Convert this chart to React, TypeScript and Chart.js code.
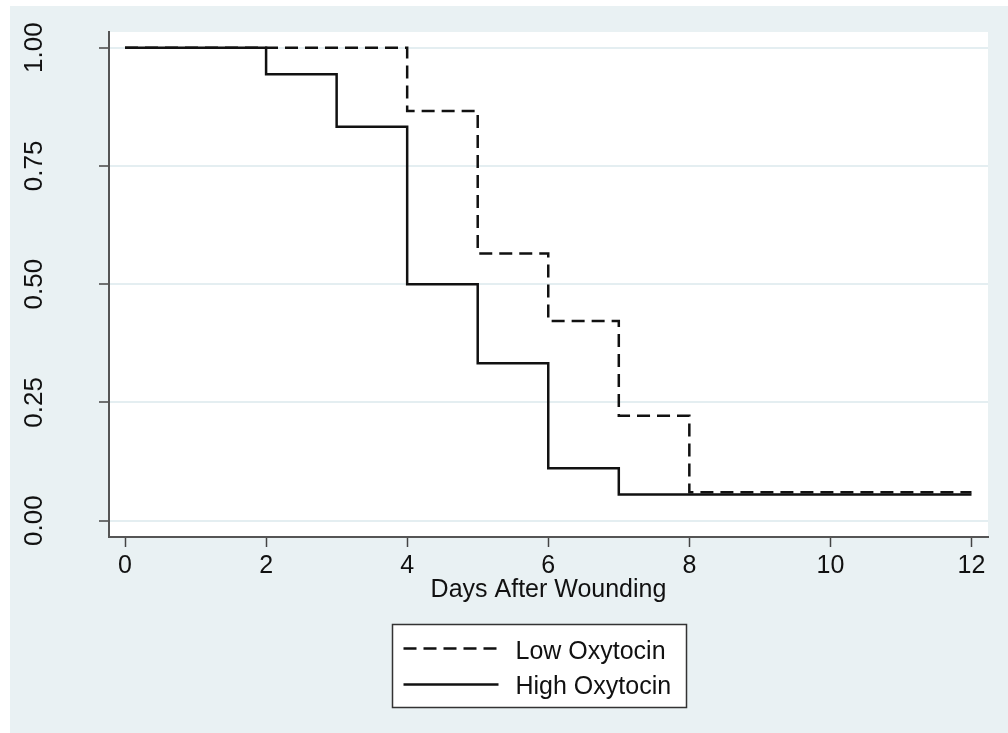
import { useEffect, useRef } from 'react'
import { Chart, registerables } from 'chart.js'

Chart.register(...registerables)

const seriesNames = ['Low Oxytocin', 'High Oxytocin']
const lowDays = [0, 4, 5, 6, 7, 8, 12]
const lowSurvival = [1, 0.866, 0.565, 0.422, 0.222, 0.06, 0.06]
const highDays = [0, 2, 3, 4, 5, 6, 7, 12]
const highSurvival = [1, 0.944, 0.833, 0.5, 0.333, 0.111, 0.0556, 0.0556]
const xTicks = [0, 2, 4, 6, 8, 10, 12]
const yTicks = [0, 0.25, 0.5, 0.75, 1]
const yTickLabels = ['0.00', '0.25', '0.50', '0.75', '1.00']
const xTitle = 'Days After Wounding'

const FONT = '"Liberation Sans", Arial, Helvetica, sans-serif'
const INK = '#111'

// white plot region on the bluish page
const plotBg = {
  id: 'plotBg',
  beforeDraw(chart: any) {
    const { ctx, chartArea: a } = chart
    ctx.save()
    ctx.fillStyle = '#fff'
    ctx.fillRect(a.left, a.top, a.right - a.left, a.bottom - a.top)
    ctx.restore()
  },
}

// Stata-style vertical y labels
const yLabels = {
  id: 'yLabels',
  afterDraw(chart: any) {
    const s = chart.scales.y
    const { ctx } = chart
    ctx.save()
    ctx.font = `26px ${FONT}`
    ctx.fillStyle = INK
    ctx.textAlign = 'center'
    ctx.textBaseline = 'alphabetic'
    s.ticks.forEach((t: any, i: number) => {
      const y = s.getPixelForValue(t.value)
      ctx.save()
      ctx.translate(s.right - 67, y)
      ctx.rotate(-Math.PI / 2)
      ctx.fillText(yTickLabels[i] ?? String(t.value), 0, 0)
      ctx.restore()
    })
    ctx.restore()
  },
}

// boxed legend under the axis title
const boxLegend = {
  id: 'boxLegend',
  afterDraw(chart: any) {
    const { ctx } = chart
    const bx = 382.5, by = 618.5, bw = 294, bh = 83
    ctx.save()
    ctx.fillStyle = '#fff'
    ctx.fillRect(bx, by, bw, bh)
    ctx.strokeStyle = '#333'
    ctx.lineWidth = 1.5
    ctx.strokeRect(bx, by, bw, bh)
    chart.data.datasets.forEach((ds: any, i: number) => {
      const ly = by + 24 + i * 36
      ctx.beginPath()
      ctx.setLineDash(ds.borderDash || [])
      ctx.strokeStyle = ds.borderColor
      ctx.lineWidth = ds.borderWidth
      ctx.moveTo(bx + 11, ly)
      ctx.lineTo(bx + 106, ly)
      ctx.stroke()
      ctx.setLineDash([])
      ctx.font = `25px ${FONT}`
      ctx.fillStyle = INK
      ctx.textAlign = 'left'
      ctx.textBaseline = 'alphabetic'
      ctx.fillText(ds.label, bx + 123, by + 34 + i * 35)
    })
    ctx.restore()
  },
}

export default function App() {
  const ref = useRef<HTMLCanvasElement>(null)
  const inst = useRef<Chart | null>(null)

  useEffect(() => {
    if (!ref.current) return
    if (inst.current) inst.current.destroy()

    inst.current = new Chart(ref.current, {
      type: 'line',
      data: {
        datasets: [
          {
            label: seriesNames[0],
            data: lowDays.map((d, i) => ({ x: d, y: lowSurvival[i] })),
            borderColor: INK,
            borderWidth: 2.5,
            borderDash: [13, 7],
            stepped: 'before',
            pointRadius: 0,
            fill: false,
          },
          {
            label: seriesNames[1],
            data: highDays.map((d, i) => ({ x: d, y: highSurvival[i] })),
            borderColor: INK,
            borderWidth: 2.5,
            stepped: 'before',
            pointRadius: 0,
            fill: false,
          },
        ],
      },
      options: {
        responsive: false,
        animation: false,
        layout: { padding: { top: 26, right: 20, bottom: 126, left: 0 } },
        plugins: {
          legend: { display: false },
          tooltip: { enabled: false },
        },
        scales: {
          x: {
            type: 'linear',
            min: -0.227,
            max: 12.234,
            afterBuildTicks: (s: any) => { s.ticks = xTicks.map(v => ({ value: v })) },
            afterFit: (s: any) => { s.height = 70 },
            grid: { drawOnChartArea: false, tickLength: 10, tickColor: '#444', tickWidth: 1.5 },
            border: { color: '#555', width: 2 },
            ticks: { color: INK, font: { size: 25, family: FONT }, padding: 4, maxRotation: 0 },
            title: {
              display: true,
              text: xTitle,
              color: INK,
              font: { size: 25, family: FONT },
              padding: { top: 0, bottom: 2 },
            },
          },
          y: {
            type: 'linear',
            min: -0.0345,
            max: 1.0332,
            afterBuildTicks: (s: any) => { s.ticks = yTicks.map(v => ({ value: v })) },
            afterFit: (s: any) => { s.width = 99 },
            grid: { color: '#e4eef1', lineWidth: 2, tickLength: 10, tickColor: '#444', tickWidth: 1.5 },
            border: { color: '#555', width: 2 },
            ticks: { display: false },
          },
        },
      },
      plugins: [plotBg, yLabels, boxLegend],
    })

    return () => inst.current?.destroy()
  }, [])

  return (
    <div style={{ position: 'fixed', left: 10, top: 6, width: 998, height: 727, background: '#e9f1f3' }}>
      <canvas ref={ref} width={998} height={727} style={{ display: 'block', width: 998, height: 727 }} />
    </div>
  )
}
